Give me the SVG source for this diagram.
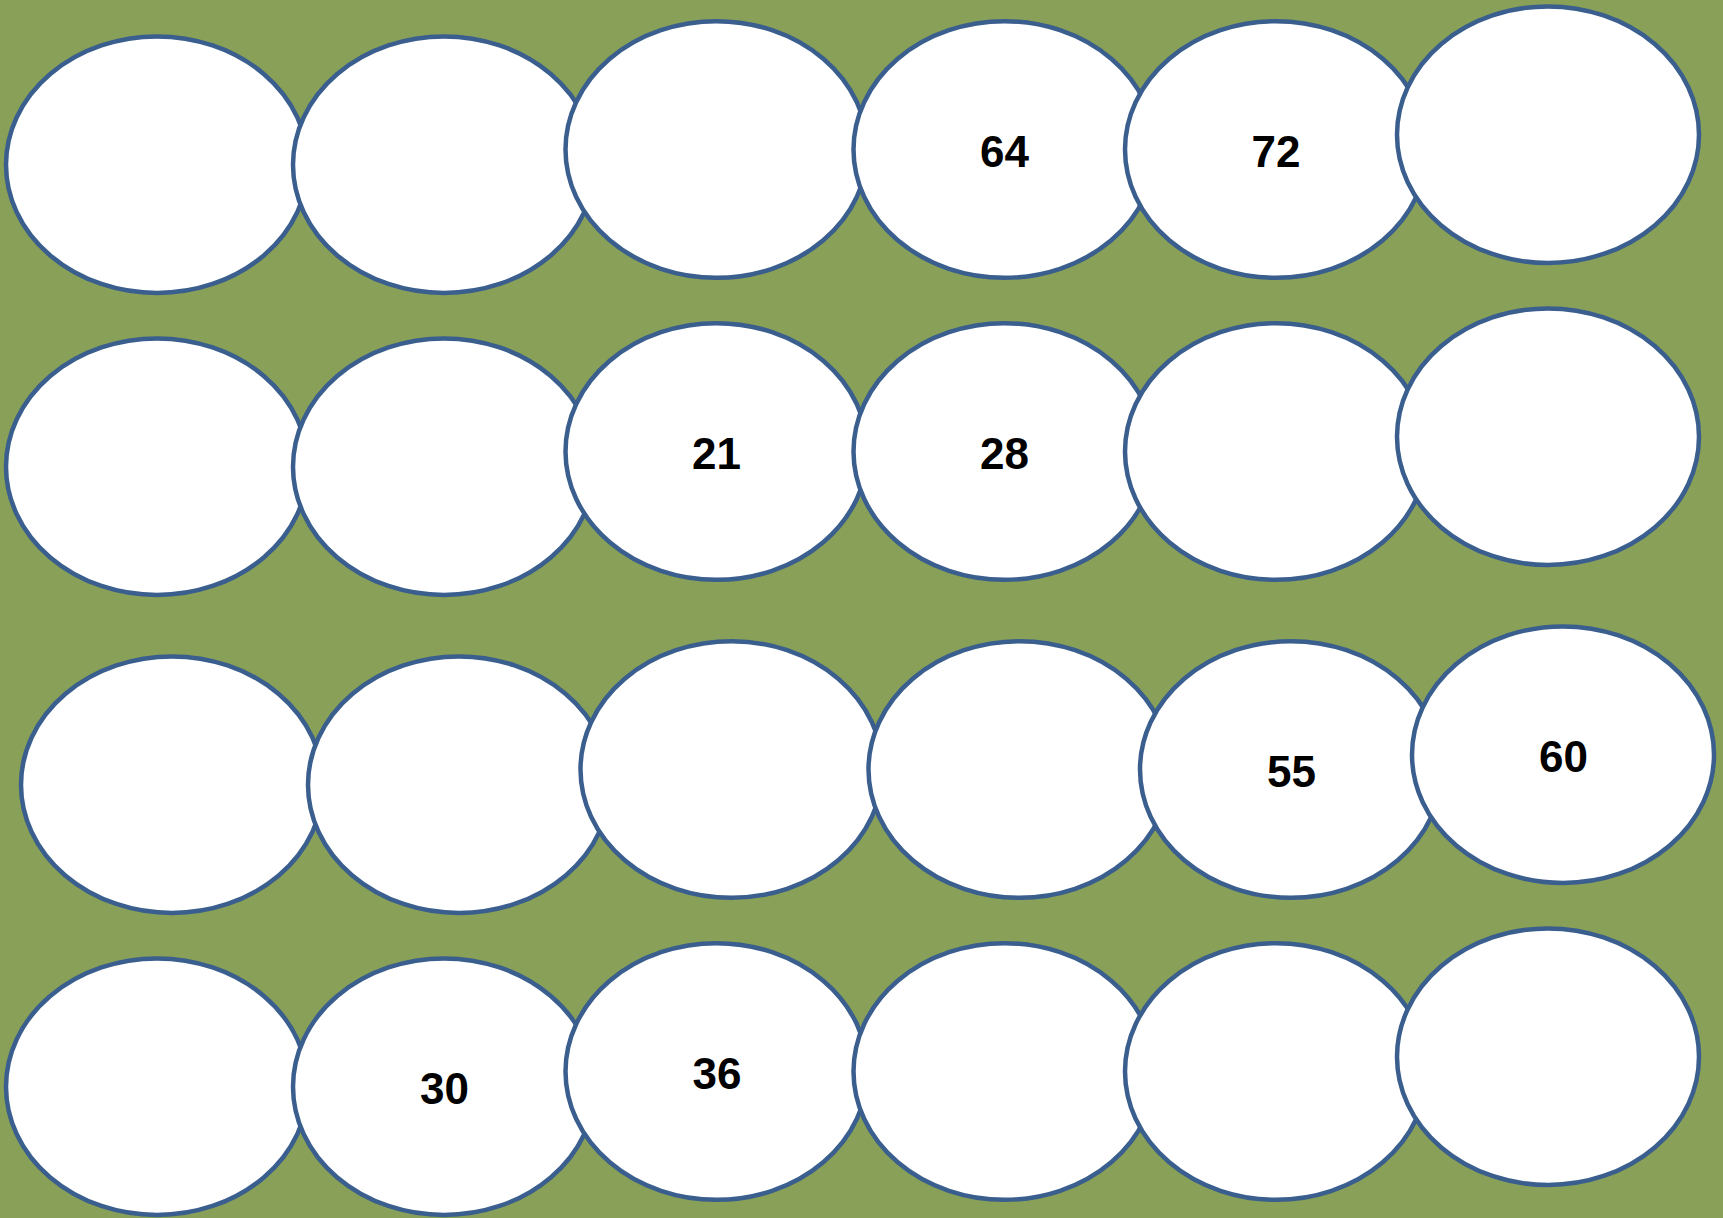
<svg xmlns="http://www.w3.org/2000/svg" width="1723" height="1218" viewBox="0 0 1723 1218">
<style>
.n{fill:#ffffff;stroke:#3A5E8D;stroke-width:4.5}
.t{font-family:"Liberation Sans",Arial,sans-serif;font-weight:bold;font-size:44px;fill:#000;text-anchor:middle}
</style>
<rect width="1723" height="1218" fill="#88A058"/>
<g id="row1">
<g id="n1-1"><ellipse class="n" cx="157" cy="164.7" rx="151" ry="128.3"/></g>
<g id="n1-2"><ellipse class="n" cx="444" cy="164.7" rx="151" ry="128.3"/></g>
<g id="n1-3"><ellipse class="n" cx="716.5" cy="149.5" rx="151" ry="128.3"/></g>
<g id="n1-4"><ellipse class="n" cx="1004.5" cy="149.5" rx="151" ry="128.3"/><text class="t" x="1004.5" y="166.5">64</text></g>
<g id="n1-5"><ellipse class="n" cx="1276" cy="149.5" rx="151" ry="128.3"/><text class="t" x="1276" y="166.5">72</text></g>
<g id="n1-6"><ellipse class="n" cx="1548" cy="134.7" rx="151" ry="128.3"/></g>
</g>
<g id="row2">
<g id="n2-1"><ellipse class="n" cx="157" cy="466.7" rx="151" ry="128.3"/></g>
<g id="n2-2"><ellipse class="n" cx="444" cy="466.7" rx="151" ry="128.3"/></g>
<g id="n2-3"><ellipse class="n" cx="716.5" cy="451.5" rx="151" ry="128.3"/><text class="t" x="716.5" y="468.5">21</text></g>
<g id="n2-4"><ellipse class="n" cx="1004.5" cy="451.5" rx="151" ry="128.3"/><text class="t" x="1004.5" y="468.5">28</text></g>
<g id="n2-5"><ellipse class="n" cx="1276" cy="451.5" rx="151" ry="128.3"/></g>
<g id="n2-6"><ellipse class="n" cx="1548" cy="436.7" rx="151" ry="128.3"/></g>
</g>
<g id="row3">
<g id="n3-1"><ellipse class="n" cx="172" cy="784.7" rx="151" ry="128.3"/></g>
<g id="n3-2"><ellipse class="n" cx="459" cy="784.7" rx="151" ry="128.3"/></g>
<g id="n3-3"><ellipse class="n" cx="731.5" cy="769.5" rx="151" ry="128.3"/></g>
<g id="n3-4"><ellipse class="n" cx="1019.5" cy="769.5" rx="151" ry="128.3"/></g>
<g id="n3-5"><ellipse class="n" cx="1291" cy="769.5" rx="151" ry="128.3"/><text class="t" x="1291.5" y="786.5">55</text></g>
<g id="n3-6"><ellipse class="n" cx="1563" cy="754.7" rx="151" ry="128.3"/><text class="t" x="1563.5" y="771.7">60</text></g>
</g>
<g id="row4">
<g id="n4-1"><ellipse class="n" cx="157" cy="1086.7" rx="151" ry="128.3"/></g>
<g id="n4-2"><ellipse class="n" cx="444" cy="1086.7" rx="151" ry="128.3"/><text class="t" x="444.5" y="1104">30</text></g>
<g id="n4-3"><ellipse class="n" cx="716.5" cy="1071.5" rx="151" ry="128.3"/><text class="t" x="717" y="1088.5">36</text></g>
<g id="n4-4"><ellipse class="n" cx="1004.5" cy="1071.5" rx="151" ry="128.3"/></g>
<g id="n4-5"><ellipse class="n" cx="1276" cy="1071.5" rx="151" ry="128.3"/></g>
<g id="n4-6"><ellipse class="n" cx="1548" cy="1056.7" rx="151" ry="128.3"/></g>
</g>
<g id="connectors"/>
</svg>
